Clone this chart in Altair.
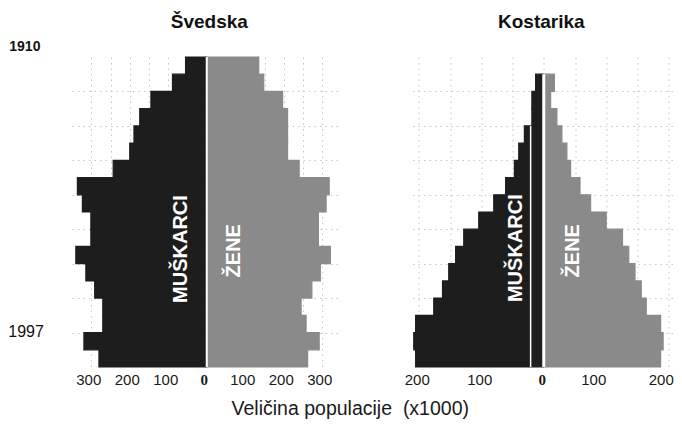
import altair as alt
import pandas as pd

# ---------------- data (x1000) ----------------
# rows listed from the top bar (oldest) to the bottom bar (youngest)
swe_men = [55, 89, 145, 174, 189, 200, 243, 336, 323, 301, 301, 340, 314, 291, 270, 270, 319, 280]
swe_women = [135, 148, 197, 210, 210, 210, 240, 318, 310, 290, 290, 321, 295, 273, 245, 258, 292, 262]
cr_men = [13, 19, 19, 31, 40, 47, 61, 80, 104, 128, 141, 152, 162, 176, 205, 208, 205]
cr_women = [17, 11, 21, 29, 37, 43, 58, 75, 100, 126, 136, 146, 156, 164, 187, 191, 187]

panel_titles = ["Švedska", "Kostarika"]
year_labels = ["1910", "1997"]
sex_labels = ["MUŠKARCI", "ŽENE"]
x_title = "Veličina populacije\u00a0 (x1000)"

swe_ticks = [-300, -250, -200, -150, -100, -50, 0, 50, 100, 150, 200, 250, 300]
cr_ticks = [-200, -150, -100, -50, 0, 50, 100, 150, 200]
row_grid = [2, 4, 6, 8, 10, 12, 14, 16]
n_rows = 18

MEN = "#1d1d1d"
WOMEN = "#8a8a8a"
GRID = "#c6c6c6"
FONT = "Liberation Sans"


def bars_df(men, women):
    rows = []
    n = len(men)
    for k, (m, w) in enumerate(zip(men, women)):
        i = n - 1 - k
        rows.append({"spol": "M", "x": -m, "x2": 0, "y": i, "y2": i + 1})
        rows.append({"spol": "Ž", "x": 0, "x2": w, "y": i, "y2": i + 1})
    return pd.DataFrame(rows)


def panel(men, women, dom, ticks, width, sex_pos, offset, center_w, extra=None):
    df = bars_df(men, women)
    xs = alt.Scale(domain=dom, nice=False, zero=False)
    ys = alt.Scale(domain=[0, n_rows], nice=False, zero=False)
    x_axis = alt.Axis(
        values=ticks, grid=True, gridColor=GRID, gridDash=[1.5, 4], gridWidth=1,
        ticks=False, domain=False, title=None,
        labelExpr="datum.value % 100 == 0 ? format(abs(datum.value), 'd') : ''",
        labelFontSize=15, labelColor="#1a1a1a",
        labelFont={"condition": {"test": "datum.value == 0", "value": "Liberation Serif"}, "value": FONT},
        labelFontWeight={"condition": {"test": "datum.value == 0", "value": "bold"}, "value": "normal"},
        labelPadding=5, labelOverlap=False, labelFlush=False, labelOffset=offset,
    )
    y_axis = alt.Axis(values=row_grid, grid=True, gridColor=GRID, gridDash=[1.5, 4], gridWidth=1,
                      labels=False, ticks=False, domain=False, title=None)

    def X(f):
        return alt.X(f, scale=xs, axis=x_axis, title=None)

    def Y(f):
        return alt.Y(f, scale=ys, axis=y_axis, title=None)

    cs = alt.Scale(domain=["M", "Ž"], range=[MEN, WOMEN])
    bars = alt.Chart(df).mark_rect(strokeWidth=1.2).encode(
        x=X("x:Q"), x2="x2",
        y=Y("y:Q"), y2="y2",
        fill=alt.Fill("spol:N", scale=cs, legend=None),
        stroke=alt.Stroke("spol:N", scale=cs, legend=None),
    )
    top = len(men)
    cdf = pd.DataFrame({"x": [0], "y": [0], "y2": [top]})
    center = alt.Chart(cdf).mark_rule(color="white", strokeWidth=center_w).encode(
        x=X("x:Q"), y=Y("y:Q"), y2="y2")
    layers = [bars, center]
    if extra is not None:
        edf = pd.DataFrame({"x": [extra[0]], "y": [extra[1]], "y2": [extra[2]]})
        layers.append(alt.Chart(edf).mark_rule(color="white", strokeWidth=1.5).encode(
            x=X("x:Q"), y=Y("y:Q"), y2="y2"))
    sdf = pd.DataFrame({"t": sex_labels, "x": [sex_pos[0][0], sex_pos[1][0]],
                        "y": [sex_pos[0][1], sex_pos[1][1]]})
    layers.append(alt.Chart(sdf).mark_text(angle=270, color="white", font=FONT, fontWeight="bold",
                                           fontSize=20, align="center", baseline="middle").encode(
        x=X("x:Q"), y=Y("y:Q"), text="t:N"))
    return layers, width


# Sweden panel
swe_layers, swe_w = panel(swe_men, swe_women, [-350, 350], swe_ticks, 269.5,
                          [(-66, 6.85), (72, 6.75)], -3, 2)
ann = pd.DataFrame({"t": [panel_titles[0]]})
swe_layers.append(alt.Chart(ann).mark_text(font=FONT, fontWeight="bold", fontSize=19, align="center",
                                           baseline="alphabetic", color="#111").encode(
    x=alt.value(137.3), y=alt.value(-29.2), text="t:N"))
yl1 = pd.DataFrame({"t": [year_labels[0]]})
swe_layers.append(alt.Chart(yl1).mark_text(font=FONT, fontWeight="bold", fontSize=14, align="left",
                                           baseline="alphabetic", color="#111").encode(
    x=alt.value(-62.7), y=alt.value(-6.2), text="t:N"))
yl2 = pd.DataFrame({"t": [year_labels[1]]})
swe_layers.append(alt.Chart(yl2).mark_text(font=FONT, fontSize=16, align="left",
                                           baseline="alphabetic", color="#111").encode(
    x=alt.value(-63.7), y=alt.value(280), text="t:N"))
xt = pd.DataFrame({"t": [x_title]})
swe_layers.append(alt.Chart(xt).mark_text(font=FONT, fontSize=19.5, align="center",
                                          baseline="alphabetic", color="#1a1a1a").encode(
    x=alt.value(278.3), y=alt.value(358.3), text="t:N"))

swe = alt.layer(*swe_layers).properties(width=swe_w, height=310)

# Costa Rica panel
cr_layers, cr_w = panel(cr_men, cr_women, [-210, 206], cr_ticks, 260,
                        [(-44, 6.9), (47.5, 6.75)],
                        {"condition": [{"test": "datum.value == 100", "value": -13},
                                       {"test": "datum.value == 200", "value": -8}], "value": -2},
                        3, extra=(-21, 0, 14))
ann2 = pd.DataFrame({"t": [panel_titles[1]]})
cr_layers.append(alt.Chart(ann2).mark_text(font=FONT, fontWeight="bold", fontSize=19, align="center",
                                           baseline="alphabetic", color="#111").encode(
    x=alt.value(128.8), y=alt.value(-29.2), text="t:N"))
cr = alt.layer(*cr_layers).properties(width=cr_w, height=310)

chart = alt.hconcat(swe, cr, spacing=70.5, bounds="flush").properties(
    padding={"left": 0, "top": 4, "right": 0, "bottom": 0},
    background="white",
).configure_view(stroke=None)

chart.save("out.html", embed_options={"renderer": "svg", "actions": False})
